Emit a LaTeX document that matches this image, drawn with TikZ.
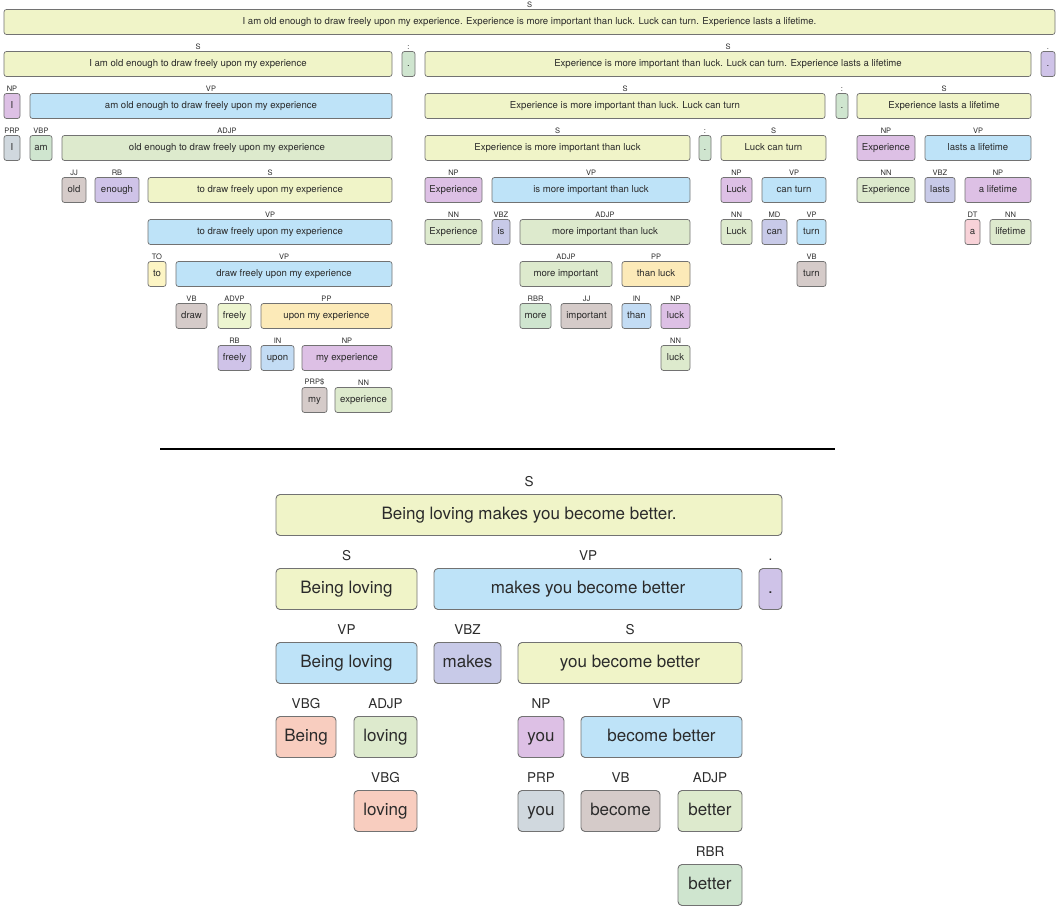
\documentclass[tikz,border=0pt]{standalone}
\usepackage{fontspec}
\setmainfont{TeX Gyre Heros}
\definecolor{txt}{HTML}{2B2B2B}
\definecolor{edgeGray}{HTML}{727272}
\definecolor{cS}{HTML}{F0F4C8}
\definecolor{cVP}{HTML}{BEE3F8}
\definecolor{cNP}{HTML}{DDC0E5}
\definecolor{cPRP}{HTML}{D0D8DE}
\definecolor{cMint}{HTML}{CFE5CF}
\definecolor{cADJP}{HTML}{DDEACD}
\definecolor{cBrown}{HTML}{D5CBC9}
\definecolor{cLav}{HTML}{CFC3E8}
\definecolor{cTO}{HTML}{FDF5C4}
\definecolor{cADVP}{HTML}{EDF5D0}
\definecolor{cPP}{HTML}{FCEAB8}
\definecolor{cIN}{HTML}{C3DCF4}
\definecolor{cVBZ}{HTML}{C8CAE8}
\definecolor{cDT}{HTML}{F8D2D8}
\definecolor{cVBG}{HTML}{F8CDBF}

\begin{document}
\begin{tikzpicture}[x=1pt, y=-1pt, w/.style={minimum width=#1pt}]
        \tikzstyle{topBox} = [draw=edgeGray, line width=0.7pt, rounded corners=2.5pt,
            inner sep=0pt, minimum height=25pt, text=txt, text height=6.9pt, text depth=1.9pt,
            font=\fontsize{9.6}{11}\selectfont]
        \tikzstyle{botBox} = [draw=edgeGray, line width=0.9pt, rounded corners=4pt,
            inner sep=0pt, minimum height=41pt, text=txt, text height=12.4pt, text depth=3.4pt,
            font=\fontsize{17}{20}\selectfont]
        \tikzstyle{sBox} = [fill=cS]
        \tikzstyle{vpBox} = [fill=cVP]
        \tikzstyle{npBox} = [fill=cNP]
        \tikzstyle{prpBox} = [fill=cPRP]
        \tikzstyle{mintBox} = [fill=cMint]
        \tikzstyle{adjpBox} = [fill=cADJP]
        \tikzstyle{brownBox} = [fill=cBrown]
        \tikzstyle{lavBox} = [fill=cLav]
        \tikzstyle{toBox} = [fill=cTO]
        \tikzstyle{advpBox} = [fill=cADVP]
        \tikzstyle{ppBox} = [fill=cPP]
        \tikzstyle{inBox} = [fill=cIN]
        \tikzstyle{vbzBox} = [fill=cVBZ]
        \tikzstyle{dtBox} = [fill=cDT]
        \tikzstyle{vbgBox} = [fill=cVBG]
        \useasboundingbox (0,0) rectangle (1061,920);

        % first parse
        \begin{scope}[every label/.style={font=\fontsize{7.5}{9}\selectfont, text=txt, inner sep=1.4pt}]
        \node[topBox, sBox, w=1051, label=above:S] (all) at (529.5,22) {I am old enough to draw freely upon my experience. Experience is more important than luck. Luck can turn. Experience lasts a lifetime.};

        \node[topBox, sBox, w=388, label=above:S] (sOld) at (198,64) {I am old enough to draw freely upon my experience};
        \node[topBox, mintBox, w=13, label={above:{:}}] (colA) at (408.5,64) {.};
        \node[topBox, sBox, w=606, label=above:S] (sRest) at (728,64) {Experience is more important than luck. Luck can turn. Experience lasts a lifetime};
        \node[topBox, lavBox, w=14, label=above:.] (dotA) at (1048,64) {.};

        \node[topBox, npBox, w=16, label=above:NP] (npI) at (12,106) {I};
        \node[topBox, vpBox, w=362, label=above:VP] (vpAm) at (211,106) {am old enough to draw freely upon my experience};
        \node[topBox, sBox, w=400, label=above:S] (sLuck) at (625,106) {Experience is more important than luck. Luck can turn};
        \node[topBox, mintBox, w=12, label={above:{:}}] (colB) at (842,106) {.};
        \node[topBox, sBox, w=174, label=above:S] (sLast) at (944,106) {Experience lasts a lifetime};

        \node[topBox, prpBox, w=16, label=above:PRP] (prpI) at (12,148) {I};
        \node[topBox, mintBox, w=22, label=above:VBP] (vbpAm) at (41,148) {am};
        \node[topBox, adjpBox, w=330, label=above:ADJP] (adjpOld) at (227,148) {old enough to draw freely upon my experience};
        \node[topBox, sBox, w=265, label=above:S] (sImp) at (557.5,148) {Experience is more important than luck};
        \node[topBox, mintBox, w=12, label={above:{:}}] (colC) at (705,148) {.};
        \node[topBox, sBox, w=105, label=above:S] (sTurn) at (773.5,148) {Luck can turn};
        \node[topBox, npBox, w=58, label=above:NP] (npExpB) at (886,148) {Experience};
        \node[topBox, vpBox, w=106, label=above:VP] (vpLasts) at (978,148) {lasts a lifetime};

        \node[topBox, brownBox, w=24, label=above:JJ] (jjOld) at (74,190) {old};
        \node[topBox, lavBox, w=44, label=above:RB] (rbEnough) at (117,190) {enough};
        \node[topBox, sBox, w=244, label=above:S] (sTo) at (270,190) {to draw freely upon my experience};
        \node[topBox, npBox, w=57, label=above:NP] (npExpA) at (453.5,190) {Experience};
        \node[topBox, vpBox, w=198, label=above:VP] (vpIs) at (591,190) {is more important than luck};
        \node[topBox, npBox, w=31, label=above:NP] (npLuck) at (736.5,190) {Luck};
        \node[topBox, vpBox, w=64, label=above:VP] (vpCan) at (794,190) {can turn};
        \node[topBox, adjpBox, w=58, label=above:NN] (nnExpB) at (886,190) {Experience};
        \node[topBox, vbzBox, w=30, label=above:VBZ] (vbzLasts) at (940,190) {lasts};
        \node[topBox, npBox, w=66, label=above:NP] (npLife) at (998,190) {a lifetime};

        \node[topBox, vpBox, w=244, label=above:VP] (vpTo) at (270,232) {to draw freely upon my experience};
        \node[topBox, adjpBox, w=57, label=above:NN] (nnExpA) at (453.5,232) {Experience};
        \node[topBox, vbzBox, w=18, label=above:VBZ] (vbzIs) at (501,232) {is};
        \node[topBox, adjpBox, w=170, label=above:ADJP] (adjpMore) at (605,232) {more important than luck};
        \node[topBox, adjpBox, w=31, label=above:NN] (nnLuck) at (736.5,232) {Luck};
        \node[topBox, vbzBox, w=25, label=above:MD] (mdCan) at (774.5,232) {can};
        \node[topBox, vpBox, w=29, label=above:VP] (vpTurn) at (811.5,232) {turn};
        \node[topBox, dtBox, w=15, label=above:DT] (dtA) at (972.5,232) {a};
        \node[topBox, adjpBox, w=41, label=above:NN] (nnLife) at (1010.5,232) {lifetime};

        \node[topBox, toBox, w=18, label=above:TO] (toTo) at (157,274) {to};
        \node[topBox, vpBox, w=216, label=above:VP] (vpDraw) at (284,274) {draw freely upon my experience};
        \node[topBox, adjpBox, w=92, label=above:ADJP] (adjpImp) at (566,274) {more important};
        \node[topBox, ppBox, w=68, label=above:PP] (ppThan) at (656,274) {than luck};
        \node[topBox, brownBox, w=29, label=above:VB] (vbTurn) at (811.5,274) {turn};

        \node[topBox, brownBox, w=31, label=above:VB] (vbDraw) at (191.5,316) {draw};
        \node[topBox, advpBox, w=33, label=above:ADVP] (advpFreely) at (234.5,316) {freely};
        \node[topBox, ppBox, w=131, label=above:PP] (ppUpon) at (326.5,316) {upon my experience};
        \node[topBox, mintBox, w=31, label=above:RBR] (rbrMore) at (535.5,316) {more};
        \node[topBox, brownBox, w=51, label=above:JJ] (jjImp) at (586.5,316) {important};
        \node[topBox, inBox, w=29, label=above:IN] (inThan) at (636.5,316) {than};
        \node[topBox, npBox, w=29, label=above:NP] (npLuckB) at (675.5,316) {luck};

        \node[topBox, lavBox, w=33, label=above:RB] (rbFreely) at (234.5,358) {freely};
        \node[topBox, inBox, w=33, label=above:IN] (inUpon) at (277.5,358) {upon};
        \node[topBox, npBox, w=90, label=above:NP] (npMy) at (347,358) {my experience};
        \node[topBox, adjpBox, w=29, label=above:NN] (nnLuckB) at (675.5,358) {luck};

        \node[topBox, brownBox, w=25, label={above:PRP\$}] (prpMy) at (314.5,400) {my};
        \node[topBox, adjpBox, w=57, label=above:NN] (nnExper) at (363.5,400) {experience};
        \end{scope}

        % separator
        \coordinate (ruleL) at (160,449);
        \coordinate (ruleR) at (835,449);
        \draw[line width=1.3pt] (ruleL) -- (ruleR);

        % second parse
        \begin{scope}[every label/.style={font=\fontsize{13.5}{16}\selectfont, text=txt, inner sep=2.5pt, label distance=5pt}]
        \node[botBox, sBox, w=506, label=above:S] (bAll) at (529,515) {Being loving makes you become better.};

        \node[botBox, sBox, w=141, label=above:S] (bS) at (346.5,589) {Being loving};
        \node[botBox, vpBox, w=308, label=above:VP] (bVP) at (588,589) {makes you become better};
        \node[botBox, lavBox, w=23, label=above:.] (bDot) at (770.5,589) {.};

        \node[botBox, vpBox, w=141, label=above:VP] (bVPbl) at (346.5,663) {Being loving};
        \node[botBox, vbzBox, w=67, label=above:VBZ] (bMakes) at (467.5,663) {makes};
        \node[botBox, sBox, w=224, label=above:S] (bSyou) at (630,663) {you become better};

        \node[botBox, vbgBox, w=60, label=above:VBG] (bBeing) at (306,737) {Being};
        \node[botBox, adjpBox, w=63, label=above:ADJP] (bAdjLoving) at (385.5,737) {loving};
        \node[botBox, npBox, w=46, label=above:NP] (bNPyou) at (541,737) {you};
        \node[botBox, vpBox, w=161, label=above:VP] (bVPbecome) at (661.5,737) {become better};

        \node[botBox, vbgBox, w=63, label=above:VBG] (bLoving) at (385.5,811) {loving};
        \node[botBox, prpBox, w=46, label=above:PRP] (bPrpYou) at (541,811) {you};
        \node[botBox, brownBox, w=79, label=above:VB] (bBecome) at (620.5,811) {become};
        \node[botBox, adjpBox, w=64, label=above:ADJP] (bAdjBetter) at (710,811) {better};

        \node[botBox, mintBox, w=64, label=above:RBR] (bRbr) at (710,885) {better};
        \end{scope}
    \end{tikzpicture}
\end{document}
